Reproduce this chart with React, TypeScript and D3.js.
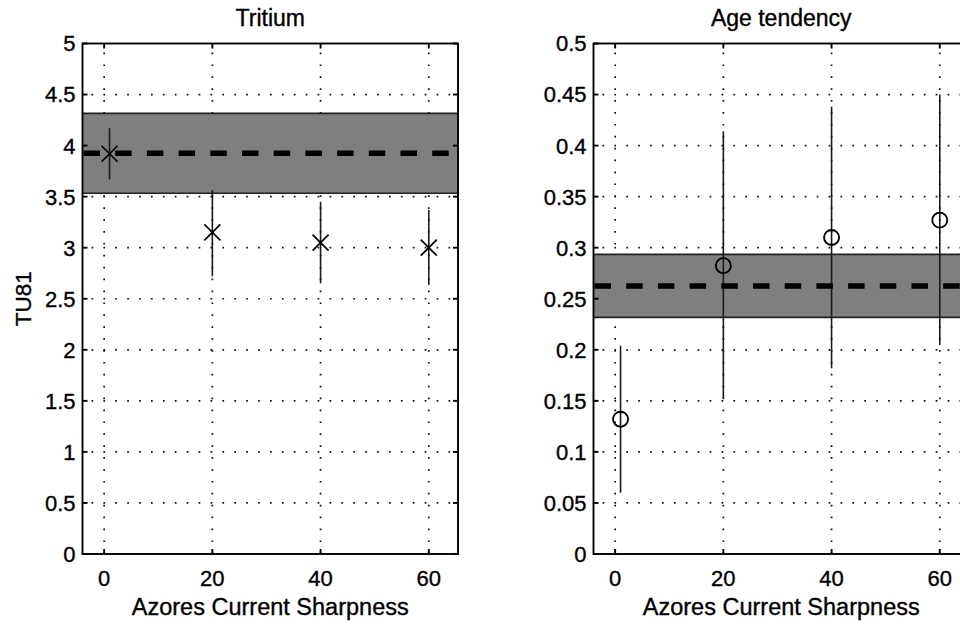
import React from "react";
import * as d3 from "d3";

// ---- data ----
const xPositions = [1, 20, 40, 60];
const xTicks = [0, 20, 40, 60];

const tritiumValues = [3.92, 3.15, 3.05, 3.0];
const tritiumLow = [3.67, 2.72, 2.65, 2.635];
const tritiumHigh = [4.17, 3.565, 3.45, 3.37];
const tritiumBand = [3.533, 4.316];
const tritiumMean = 3.925;
const tritiumYTicks = [0, 0.5, 1, 1.5, 2, 2.5, 3, 3.5, 4, 4.5, 5];
const tritiumYLabels = ["0", "0.5", "1", "1.5", "2", "2.5", "3", "3.5", "4", "4.5", "5"];

const ageValues = [0.132, 0.2824, 0.31, 0.327];
const ageLow = [0.06, 0.1525, 0.182, 0.2047];
const ageHigh = [0.204, 0.414, 0.438, 0.45];
const ageBand = [0.2318, 0.2935];
const ageMean = 0.2625;
const ageYTicks = [0, 0.05, 0.1, 0.15, 0.2, 0.25, 0.3, 0.35, 0.4, 0.45, 0.5];
const ageYLabels = ["0", "0.05", "0.1", "0.15", "0.2", "0.25", "0.3", "0.35", "0.4", "0.45", "0.5"];

const FONT = "'Liberation Sans', Arial, Helvetica, sans-serif";
const TEXT_STROKE = { stroke: "#000", strokeWidth: 0.35 };

type PanelProps = {
  left: number;
  title: string;
  ylabel?: string;
  values: number[];
  low: number[];
  high: number[];
  band: number[];
  mean: number;
  yTicks: number[];
  yLabels: string[];
  yMax: number;
  marker: "x" | "o";
};

function Panel(p: PanelProps) {
  const top = 43.5;
  const bottom = 554;
  const width = 375.5;
  const right = p.left + width;
  const x = d3.scaleLinear().domain([-4, 65.4]).range([p.left, right]);
  const y = d3.scaleLinear().domain([0, p.yMax]).range([bottom, top]);
  const tickLen = 5;
  const cx = (p.left + right) / 2;
  return (
    <g>
      {/* grid */}
      {xTicks.map((t) => (
        <line key={"gx" + t} x1={x(t)} x2={x(t)} y1={bottom} y2={top}
          stroke="#111" strokeWidth={1.7} strokeDasharray="1.7 10.2" />
      ))}
      {p.yTicks.slice(1, -1).map((t) => (
        <line key={"gy" + t} x1={p.left} x2={right} y1={y(t)} y2={y(t)}
          stroke="#111" strokeWidth={1.7} strokeDasharray="1.7 10.2" strokeDashoffset={-9} />
      ))}
      {/* band */}
      <rect x={p.left} y={y(p.band[1])} width={width} height={y(p.band[0]) - y(p.band[1])}
        fill="#7f7f7f" stroke="none" />
      <line x1={p.left} x2={right} y1={y(p.band[1])} y2={y(p.band[1])} stroke="#222" strokeWidth={1.6} />
      <line x1={p.left} x2={right} y1={y(p.band[0])} y2={y(p.band[0])} stroke="#222" strokeWidth={1.6} />
      {/* error bars */}
      {xPositions.map((xv, i) => (
        <line key={"e" + i} x1={x(xv)} x2={x(xv)} y1={y(p.low[i])} y2={y(p.high[i])}
          stroke="#1a1a1a" strokeWidth={1.6} />
      ))}
      {/* mean dashed */}
      <line x1={p.left} x2={right} y1={y(p.mean)} y2={y(p.mean)} stroke="#000" strokeWidth={5.5}
        strokeDasharray="16.5 15.2" strokeDashoffset={-1} />
      {/* markers */}
      {xPositions.map((xv, i) => {
        const px = x(xv);
        const py = y(p.values[i]);
        if (p.marker === "x") {
          const s = 8;
          return (
            <path key={"m" + i} d={`M${px - s},${py - s}L${px + s},${py + s}M${px - s},${py + s}L${px + s},${py - s}`}
              stroke="#000" strokeWidth={1.7} fill="none" />
          );
        }
        return <circle key={"m" + i} cx={px} cy={py} r={7.5} fill="none" stroke="#000" strokeWidth={1.9} />;
      })}
      {/* box */}
      <rect x={p.left} y={top} width={width} height={bottom - top} fill="none" stroke="#000" strokeWidth={1.9} />
      {/* ticks */}
      {xTicks.map((t) => (
        <g key={"tx" + t}>
          <line x1={x(t)} x2={x(t)} y1={bottom} y2={bottom - tickLen} stroke="#000" strokeWidth={1.9} />
          <line x1={x(t)} x2={x(t)} y1={top} y2={top + tickLen} stroke="#000" strokeWidth={1.9} />
          <text x={x(t)} y={586} textAnchor="middle" fontFamily={FONT} fontSize={22} fill="#000" {...TEXT_STROKE}>{t}</text>
        </g>
      ))}
      {p.yTicks.map((t, i) => (
        <g key={"ty" + t}>
          <line x1={p.left} x2={p.left + tickLen} y1={y(t)} y2={y(t)} stroke="#000" strokeWidth={1.9} />
          <line x1={right} x2={right - tickLen} y1={y(t)} y2={y(t)} stroke="#000" strokeWidth={1.9} />
          <text x={p.left - 7} y={y(t)} dy="0.36em" textAnchor="end" fontFamily={FONT} fontSize={22} fill="#000" {...TEXT_STROKE}>
            {p.yLabels[i]}
          </text>
        </g>
      ))}
      {/* labels */}
      <text x={cx} y={25.5} textAnchor="middle" fontFamily={FONT} fontSize={23} fill="#000" {...TEXT_STROKE}>{p.title}</text>
      <text x={cx} y={615} textAnchor="middle" fontFamily={FONT} fontSize={23.5} fill="#000" {...TEXT_STROKE}>Azores Current Sharpness</text>
      {p.ylabel && (
        <text transform={`translate(31,${(top + bottom) / 2}) rotate(-90)`} textAnchor="middle"
          fontFamily={FONT} fontSize={22.5} fill="#000" {...TEXT_STROKE}>{p.ylabel}</text>
      )}
    </g>
  );
}

export default function App() {
  return (
    <svg width={960} height={624} style={{ position: "absolute", left: 0, top: 0, background: "#fff" }}>
      <rect width={960} height={624} fill="#fff" />
      <Panel left={82.5} title="Tritium" ylabel="TU81" values={tritiumValues} low={tritiumLow} high={tritiumHigh}
        band={tritiumBand} mean={tritiumMean} yTicks={tritiumYTicks} yLabels={tritiumYLabels} yMax={5} marker="x" />
      <Panel left={593.5} title="Age tendency" values={ageValues} low={ageLow} high={ageHigh}
        band={ageBand} mean={ageMean} yTicks={ageYTicks} yLabels={ageYLabels} yMax={0.5} marker="o" />
    </svg>
  );
}
